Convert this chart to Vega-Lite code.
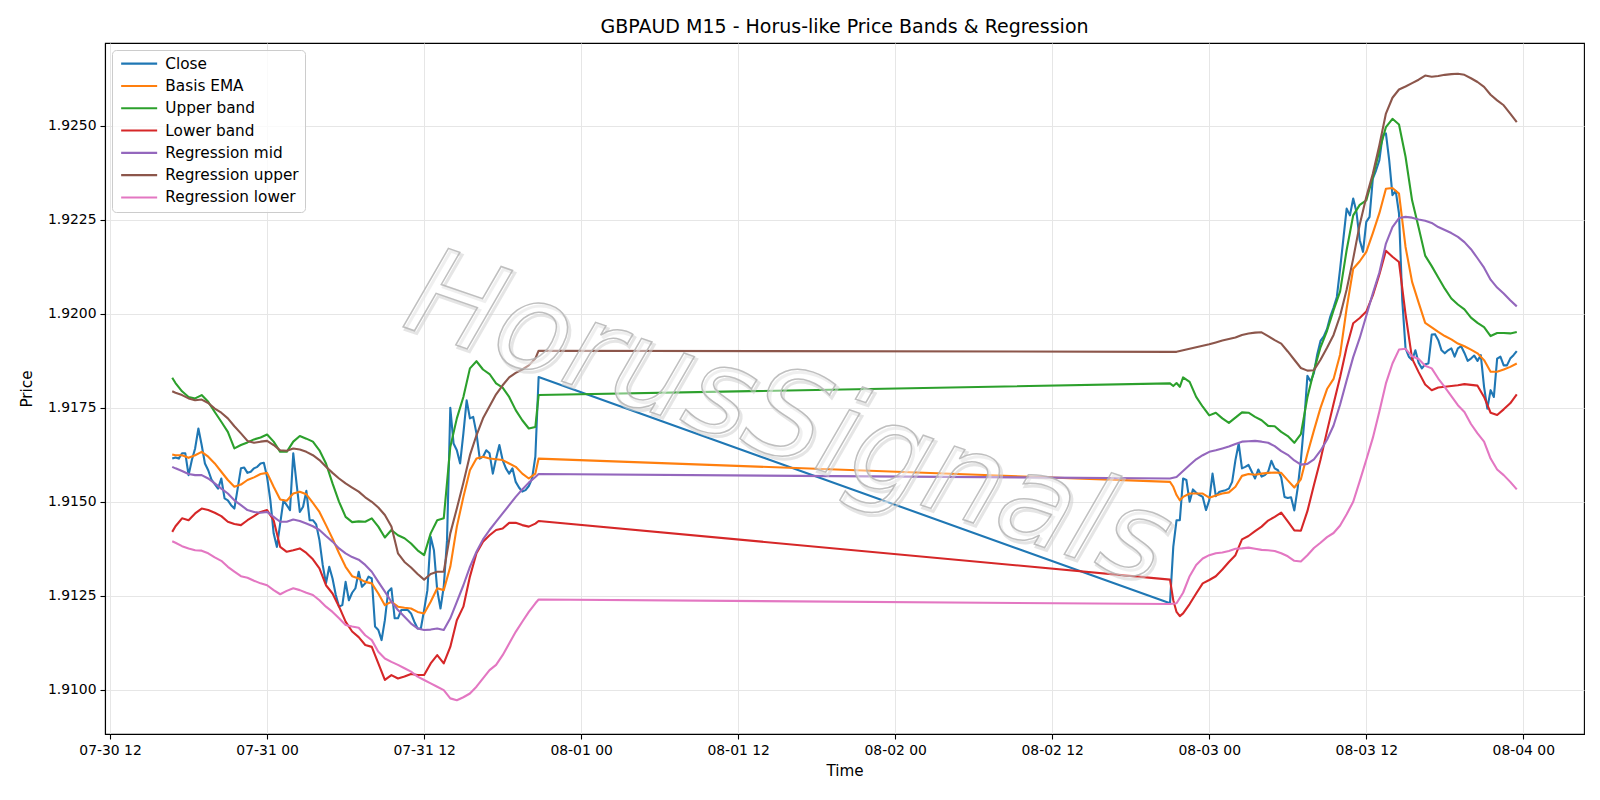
{
  "$schema": "https://vega.github.io/schema/vega-lite/v6.json",
  "width": 1479,
  "height": 691,
  "autosize": {"type": "none"},
  "padding": {"left": 105, "top": 43, "right": 16, "bottom": 66},
  "background": "white",
  "title": {"text": "GBPAUD M15 - Horus-like Price Bands & Regression", "fontSize": 19, "fontWeight": "normal", "color": "black", "offset": 6, "anchor": "middle"},
  "config": {
    "font": "DejaVu Sans",
    "view": {"stroke": "black", "strokeWidth": 1.1},
    "axis": {"labelFontSize": 13.9, "titleFontSize": 15.2, "titleFontWeight": "normal", "labelColor": "black", "titleColor": "black", "tickColor": "black", "domainColor": "black", "tickSize": 5, "tickWidth": 1.1, "domainWidth": 1.1, "labelPadding": 4, "gridColor": "#e6e6e6", "gridWidth": 1, "labelOverlap": false, "labelFlush": false}
  },
  "layer": [
    {
      "data": {"values": [
        {"t":"2020-07-30T16:45","c":1.91615,"e":1.91626,"u":1.9183,"l":1.9142,"m":1.91593,"h":1.91794,"w":1.91395},
        {"t":"2020-07-30T17:00","c":1.91618,"e":1.91624,"u":1.91816,"l":1.91435,"m":1.91589,"h":1.9179,"w":1.91391},
        {"t":"2020-07-30T17:15","c":1.91615},
        {"t":"2020-07-30T17:30","c":1.91629,"e":1.91624,"u":1.91794,"l":1.91456,"m":1.91582,"h":1.91784,"w":1.91382},
        {"t":"2020-07-30T17:45","c":1.91629},
        {"t":"2020-07-30T18:00","c":1.91571,"e":1.91617,"u":1.91779,"l":1.91451,"m":1.91574,"h":1.91775,"w":1.91376},
        {"t":"2020-07-30T18:15","c":1.91611},
        {"t":"2020-07-30T18:30","c":1.91642,"e":1.91624,"u":1.91775,"l":1.91469,"m":1.91571,"h":1.9177,"w":1.91371},
        {"t":"2020-07-30T18:45","c":1.91695},
        {"t":"2020-07-30T19:00","c":1.91651,"e":1.91633,"u":1.91784,"l":1.91482,"m":1.91571,"h":1.91772,"w":1.9137},
        {"t":"2020-07-30T19:15","c":1.91602},
        {"t":"2020-07-30T19:30","c":1.91584,"e":1.9162,"u":1.91766,"l":1.91478,"m":1.91562,"h":1.91763,"w":1.91363},
        {"t":"2020-07-30T19:45","c":1.91559},
        {"t":"2020-07-30T20:00","c":1.91547,"e":1.91602,"u":1.91739,"l":1.91471,"m":1.91549,"h":1.91748,"w":1.91352},
        {"t":"2020-07-30T20:15","c":1.91535},
        {"t":"2020-07-30T20:30","c":1.91562,"e":1.9158,"u":1.91713,"l":1.91462,"m":1.91535,"h":1.91737,"w":1.91343},
        {"t":"2020-07-30T20:45","c":1.91509},
        {"t":"2020-07-30T21:00","c":1.91504,"e":1.91558,"u":1.91686,"l":1.91447,"m":1.91522,"h":1.91722,"w":1.91327},
        {"t":"2020-07-30T21:15","c":1.91491},
        {"t":"2020-07-30T21:30","c":1.91482,"e":1.9154,"u":1.91642,"l":1.91441,"m":1.91504,"h":1.91701,"w":1.91314},
        {"t":"2020-07-30T21:45","c":1.91535},
        {"t":"2020-07-30T22:00","c":1.91589,"e":1.91546,"u":1.91651,"l":1.91438,"m":1.91491,"h":1.91682,"w":1.91302},
        {"t":"2020-07-30T22:15","c":1.91591},
        {"t":"2020-07-30T22:30","c":1.91577,"e":1.91558,"u":1.91658,"l":1.91451,"m":1.91478,"h":1.91662,"w":1.91298},
        {"t":"2020-07-30T22:45","c":1.9158},
        {"t":"2020-07-30T23:00","c":1.91589,"e":1.91565,"u":1.91666,"l":1.91462,"m":1.91473,"h":1.91657,"w":1.9129},
        {"t":"2020-07-30T23:15","c":1.91593},
        {"t":"2020-07-30T23:30","c":1.91602,"e":1.91574,"u":1.91671,"l":1.91473,"m":1.91471,"h":1.9166,"w":1.91283},
        {"t":"2020-07-30T23:45","c":1.91604},
        {"t":"2020-07-31T00:00","c":1.91566,"e":1.91577,"u":1.91679,"l":1.91478,"m":1.91473,"h":1.91662,"w":1.91278},
        {"t":"2020-07-31T00:15","c":1.91504},
        {"t":"2020-07-31T00:30","c":1.91416,"e":1.9154,"u":1.9166,"l":1.91451,"m":1.9146,"h":1.91651,"w":1.91265},
        {"t":"2020-07-31T00:45","c":1.9138},
        {"t":"2020-07-31T01:00","c":1.91442,"e":1.91506,"u":1.91633,"l":1.9138,"m":1.91447,"h":1.91637,"w":1.91254},
        {"t":"2020-07-31T01:15","c":1.91504},
        {"t":"2020-07-31T01:30","c":1.91491,"e":1.91503,"u":1.91633,"l":1.91367,"m":1.91447,"h":1.91636,"w":1.91263},
        {"t":"2020-07-31T01:45","c":1.91478},
        {"t":"2020-07-31T02:00","c":1.91629,"e":1.91522,"u":1.9166,"l":1.91371,"m":1.91453,"h":1.91642,"w":1.9127},
        {"t":"2020-07-31T02:15","c":1.91549},
        {"t":"2020-07-31T02:30","c":1.91473,"e":1.91527,"u":1.91675,"l":1.91376,"m":1.91449,"h":1.91639,"w":1.91265},
        {"t":"2020-07-31T02:45","c":1.91487},
        {"t":"2020-07-31T03:00","c":1.91529,"e":1.9152,"u":1.91668,"l":1.91364,"m":1.91442,"h":1.91633,"w":1.91258},
        {"t":"2020-07-31T03:15","c":1.91451},
        {"t":"2020-07-31T03:30","c":1.91451,"e":1.91497,"u":1.9166,"l":1.91347,"m":1.91435,"h":1.91624,"w":1.91252},
        {"t":"2020-07-31T03:45","c":1.9144},
        {"t":"2020-07-31T04:00","c":1.91398,"e":1.91473,"u":1.91637,"l":1.91323,"m":1.91425,"h":1.91611,"w":1.91238},
        {"t":"2020-07-31T04:15","c":1.91332},
        {"t":"2020-07-31T04:30","c":1.91283,"e":1.91438,"u":1.91602,"l":1.91278,"m":1.91409,"h":1.91593,"w":1.91221},
        {"t":"2020-07-31T04:45","c":1.91327},
        {"t":"2020-07-31T05:00","c":1.91296,"e":1.91402,"u":1.91549,"l":1.91256,"m":1.91394,"h":1.91577,"w":1.91207},
        {"t":"2020-07-31T05:15","c":1.91252},
        {"t":"2020-07-31T05:30","c":1.91221,"e":1.91363,"u":1.915,"l":1.91221,"m":1.91376,"h":1.91562,"w":1.9119},
        {"t":"2020-07-31T05:45","c":1.91225},
        {"t":"2020-07-31T06:00","c":1.91287,"e":1.91327,"u":1.9146,"l":1.91181,"m":1.91363,"h":1.91549,"w":1.91172},
        {"t":"2020-07-31T06:15","c":1.91238},
        {"t":"2020-07-31T06:30","c":1.91258,"e":1.91302,"u":1.91446,"l":1.91155,"m":1.91353,"h":1.91538,"w":1.91168},
        {"t":"2020-07-31T06:45","c":1.9127},
        {"t":"2020-07-31T07:00","c":1.91314,"e":1.91296,"u":1.91448,"l":1.9114,"m":1.91346,"h":1.91527,"w":1.91165},
        {"t":"2020-07-31T07:15","c":1.91274},
        {"t":"2020-07-31T07:30","c":1.91283,"e":1.91287,"u":1.91447,"l":1.91119,"m":1.91332,"h":1.91512,"w":1.91145},
        {"t":"2020-07-31T07:45","c":1.91301},
        {"t":"2020-07-31T08:00","c":1.91296,"e":1.91283,"u":1.91456,"l":1.91114,"m":1.91314,"h":1.915,"w":1.91132},
        {"t":"2020-07-31T08:15","c":1.91168},
        {"t":"2020-07-31T08:30","c":1.91159,"e":1.91256,"u":1.91434,"l":1.9107,"m":1.91287,"h":1.91485,"w":1.91101},
        {"t":"2020-07-31T08:45","c":1.91132},
        {"t":"2020-07-31T09:00","c":1.91185,"e":1.91225,"u":1.91405,"l":1.91026,"m":1.91261,"h":1.91465,"w":1.91083},
        {"t":"2020-07-31T09:15","c":1.91261},
        {"t":"2020-07-31T09:30","c":1.9127,"e":1.91234,"u":1.91425,"l":1.91039,"m":1.91234,"h":1.91434,"w":1.91074},
        {"t":"2020-07-31T09:45","c":1.9119},
        {"t":"2020-07-31T10:00","c":1.9119,"e":1.91221,"u":1.91411,"l":1.9103,"m":1.91212,"h":1.91363,"w":1.91066},
        {"t":"2020-07-31T10:15","c":1.91212},
        {"t":"2020-07-31T10:30","c":1.91212,"e":1.91218,"u":1.91403,"l":1.91035,"m":1.91194,"h":1.9134,"w":1.91057},
        {"t":"2020-07-31T10:45","c":1.91212},
        {"t":"2020-07-31T11:00","c":1.91203,"e":1.91216,"u":1.91389,"l":1.91042,"m":1.91176,"h":1.91325,"w":1.91048},
        {"t":"2020-07-31T11:15","c":1.91181},
        {"t":"2020-07-31T11:30","c":1.91163,"e":1.91207,"u":1.91371,"l":1.91039,"m":1.91163,"h":1.91308,"w":1.91035},
        {"t":"2020-07-31T11:45","c":1.91163},
        {"t":"2020-07-31T12:00","c":1.91212,"e":1.91203,"u":1.91358,"l":1.91039,"m":1.91159,"h":1.91293,"w":1.91026},
        {"t":"2020-07-31T12:15","c":1.91265},
        {"t":"2020-07-31T12:30","c":1.91407,"e":1.91234,"u":1.91416,"l":1.9107,"m":1.9116,"h":1.91308,"w":1.91017},
        {"t":"2020-07-31T12:45","c":1.91371},
        {"t":"2020-07-31T13:00","c":1.91265,"e":1.9127,"u":1.91451,"l":1.91092,"m":1.91163,"h":1.91314,"w":1.91008},
        {"t":"2020-07-31T13:15","c":1.91216},
        {"t":"2020-07-31T13:30","c":1.91274,"e":1.91265,"u":1.91456,"l":1.9107,"m":1.91159,"h":1.91314,"w":1.90999},
        {"t":"2020-07-31T13:45","c":1.91398},
        {"t":"2020-07-31T14:00","c":1.9175,"e":1.91327,"u":1.91646,"l":1.91114,"m":1.9119,"h":1.91416,"w":1.90977},
        {"t":"2020-07-31T14:15","c":1.91655},
        {"t":"2020-07-31T14:30","c":1.91637,"e":1.91434,"u":1.91722,"l":1.91185,"m":1.91234,"h":1.91482,"w":1.90972},
        {"t":"2020-07-31T14:45","c":1.91602},
        {"t":"2020-07-31T15:00","c":1.91682,"e":1.91513,"u":1.91779,"l":1.91221,"m":1.91278,"h":1.91551,"w":1.9098},
        {"t":"2020-07-31T15:15","c":1.9177},
        {"t":"2020-07-31T15:30","c":1.91722,"e":1.91584,"u":1.91855,"l":1.91301,"m":1.91327,"h":1.91624,"w":1.9099},
        {"t":"2020-07-31T15:45","c":1.91726},
        {"t":"2020-07-31T16:00","c":1.91682,"e":1.91615,"u":1.91874,"l":1.91363,"m":1.91367,"h":1.91677,"w":1.91008},
        {"t":"2020-07-31T16:15","c":1.91615},
        {"t":"2020-07-31T16:30","c":1.9162,"e":1.9162,"u":1.91852,"l":1.91394,"m":1.914,"h":1.91722,"w":1.9103},
        {"t":"2020-07-31T16:45","c":1.91637},
        {"t":"2020-07-31T17:00","c":1.91629,"e":1.91615,"u":1.9184,"l":1.91411,"m":1.91425,"h":1.91754,"w":1.91052},
        {"t":"2020-07-31T17:15","c":1.91575},
        {"t":"2020-07-31T17:30","c":1.91615,"e":1.91613,"u":1.91815,"l":1.91425,"m":1.91447,"h":1.91786,"w":1.91066},
        {"t":"2020-07-31T17:45","c":1.91651},
        {"t":"2020-07-31T18:00","c":1.91611,"e":1.91611,"u":1.91804,"l":1.91429,"m":1.91469,"h":1.9181,"w":1.91092},
        {"t":"2020-07-31T18:15","c":1.91589},
        {"t":"2020-07-31T18:30","c":1.91575,"e":1.91602,"u":1.91779,"l":1.91444,"m":1.91491,"h":1.91831,"w":1.91123},
        {"t":"2020-07-31T18:45","c":1.91589},
        {"t":"2020-07-31T19:00","c":1.91553,"e":1.91593,"u":1.91744,"l":1.91444,"m":1.91513,"h":1.91843,"w":1.91154},
        {"t":"2020-07-31T19:15","c":1.91538},
        {"t":"2020-07-31T19:30","c":1.91527,"e":1.91575,"u":1.91717,"l":1.91438,"m":1.91533,"h":1.91852,"w":1.91181},
        {"t":"2020-07-31T19:45","c":1.91531},
        {"t":"2020-07-31T20:00","c":1.91542,"e":1.91562,"u":1.91695,"l":1.91434,"m":1.91551,"h":1.91863,"w":1.91207},
        {"t":"2020-07-31T20:15","c":1.91562},
        {"t":"2020-07-31T20:30","c":1.9162,"e":1.91575,"u":1.91699,"l":1.91442,"m":1.91566,"h":1.91881,"w":1.9123},
        {"t":"2020-07-31T20:45","c":1.91832,"e":1.91615,"u":1.91784,"l":1.91449,"m":1.91574,"h":1.91902,"w":1.9124},
        {"t":"2020-08-02T21:00","c":1.9123,"e":1.91553,"u":1.91815,"l":1.91293,"m":1.91562,"h":1.91899,"w":1.91228},
        {"t":"2020-08-02T21:15","c":1.9138,"e":1.9154,"u":1.91808,"l":1.91238},
        {"t":"2020-08-02T21:30","c":1.91451,"e":1.91518,"u":1.91816,"l":1.91207,"m":1.91566,"h":1.91899,"w":1.9123},
        {"t":"2020-08-02T21:45","c":1.91451,"e":1.91504,"u":1.91806,"l":1.91196},
        {"t":"2020-08-02T22:00","c":1.91562,"e":1.91513,"u":1.91831,"l":1.91203,"m":1.91582,"h":1.91903,"w":1.91258},
        {"t":"2020-08-02T22:15","c":1.91558},
        {"t":"2020-08-02T22:30","c":1.915,"e":1.91522,"u":1.91819,"l":1.91228,"m":1.91598,"h":1.91907,"w":1.91302},
        {"t":"2020-08-02T22:45","c":1.91533},
        {"t":"2020-08-02T23:00","c":1.91524,"e":1.91522,"u":1.91779,"l":1.91256,"m":1.91613,"h":1.91911,"w":1.91332},
        {"t":"2020-08-02T23:15","c":1.91518},
        {"t":"2020-08-02T23:30","c":1.91513,"e":1.91522,"u":1.91753,"l":1.91283,"m":1.91624,"h":1.91915,"w":1.91349},
        {"t":"2020-08-02T23:45","c":1.91478},
        {"t":"2020-08-03T00:00","c":1.91504,"e":1.91511,"u":1.9173,"l":1.91292,"m":1.91633,"h":1.91919,"w":1.91358},
        {"t":"2020-08-03T00:15","c":1.91575},
        {"t":"2020-08-03T00:30","c":1.91515,"e":1.91517,"u":1.91737,"l":1.91302,"m":1.91637,"h":1.91924,"w":1.91363},
        {"t":"2020-08-03T00:45","c":1.91526},
        {"t":"2020-08-03T01:00","c":1.91529,"e":1.91522,"u":1.91722,"l":1.9132,"m":1.91642,"h":1.91929,"w":1.91365},
        {"t":"2020-08-03T01:15","c":1.91531},
        {"t":"2020-08-03T01:30","c":1.91535,"e":1.91525,"u":1.9171,"l":1.9134,"m":1.91647,"h":1.91933,"w":1.91369},
        {"t":"2020-08-03T01:45","c":1.91553},
        {"t":"2020-08-03T02:00","c":1.91611,"e":1.9154,"u":1.91724,"l":1.91358,"m":1.91654,"h":1.91937,"w":1.91375},
        {"t":"2020-08-03T02:15","c":1.91655},
        {"t":"2020-08-03T02:30","c":1.91589,"e":1.91569,"u":1.91738,"l":1.914,"m":1.9166,"h":1.91944,"w":1.91376},
        {"t":"2020-08-03T02:45","c":1.91593},
        {"t":"2020-08-03T03:00","c":1.91598,"e":1.91574,"u":1.91737,"l":1.91409,"m":1.91661,"h":1.91948,"w":1.91378},
        {"t":"2020-08-03T03:15","c":1.9158},
        {"t":"2020-08-03T03:30","c":1.91562,"e":1.91572,"u":1.91726,"l":1.91422,"m":1.91662,"h":1.9195,"w":1.91375},
        {"t":"2020-08-03T03:45","c":1.91586},
        {"t":"2020-08-03T04:00","c":1.91567,"e":1.91575,"u":1.91717,"l":1.91434,"m":1.9166,"h":1.91951,"w":1.91372},
        {"t":"2020-08-03T04:15","c":1.91571},
        {"t":"2020-08-03T04:30","c":1.9158,"e":1.91577,"u":1.91702,"l":1.9145,"m":1.91657,"h":1.91941,"w":1.91371},
        {"t":"2020-08-03T04:45","c":1.91609},
        {"t":"2020-08-03T05:00","c":1.91589,"e":1.91578,"u":1.91701,"l":1.9146,"m":1.91648,"h":1.9193,"w":1.91369},
        {"t":"2020-08-03T05:15","c":1.91584},
        {"t":"2020-08-03T05:30","c":1.91565,"e":1.91577,"u":1.91686,"l":1.91471,"m":1.91635,"h":1.91921,"w":1.91363},
        {"t":"2020-08-03T05:45","c":1.91513},
        {"t":"2020-08-03T06:00","c":1.9151,"e":1.91557,"u":1.91675,"l":1.91448,"m":1.91625,"h":1.919,"w":1.91355},
        {"t":"2020-08-03T06:15","c":1.91512},
        {"t":"2020-08-03T06:30","c":1.91477,"e":1.91538,"u":1.91657,"l":1.91424,"m":1.9161,"h":1.91878,"w":1.91343},
        {"t":"2020-08-03T06:45","c":1.91535},
        {"t":"2020-08-03T07:00","c":1.9161,"e":1.9156,"u":1.9168,"l":1.91423,"m":1.91599,"h":1.91856,"w":1.91341},
        {"t":"2020-08-03T07:15","c":1.9171},
        {"t":"2020-08-03T07:30","c":1.91835,"e":1.91628,"u":1.91778,"l":1.91475,"m":1.91601,"h":1.91849,"w":1.91358},
        {"t":"2020-08-03T07:45","c":1.9182},
        {"t":"2020-08-03T08:00","c":1.91843,"e":1.9169,"u":1.91849,"l":1.91545,"m":1.91613,"h":1.9185,"w":1.91377},
        {"t":"2020-08-03T08:15","c":1.91892},
        {"t":"2020-08-03T08:30","c":1.91928,"e":1.9175,"u":1.91911,"l":1.91612,"m":1.91636,"h":1.91878,"w":1.91391},
        {"t":"2020-08-03T08:45","c":1.9194},
        {"t":"2020-08-03T09:00","c":1.9196,"e":1.918,"u":1.91955,"l":1.91688,"m":1.91665,"h":1.9191,"w":1.91406},
        {"t":"2020-08-03T09:15","c":1.91993},
        {"t":"2020-08-03T09:30","c":1.92017,"e":1.91827,"u":1.9201,"l":1.91761,"m":1.91703,"h":1.91944,"w":1.91417},
        {"t":"2020-08-03T09:45","c":1.92045},
        {"t":"2020-08-03T10:00","c":1.9212,"e":1.91892,"u":1.9206,"l":1.91832,"m":1.91759,"h":1.91995,"w":1.91437},
        {"t":"2020-08-03T10:15","c":1.922},
        {"t":"2020-08-03T10:30","c":1.9228,"e":1.92015,"u":1.9217,"l":1.91911,"m":1.91823,"h":1.92065,"w":1.91467},
        {"t":"2020-08-03T10:45","c":1.92262},
        {"t":"2020-08-03T11:00","c":1.92307,"e":1.9212,"u":1.92262,"l":1.91975,"m":1.91885,"h":1.92147,"w":1.915},
        {"t":"2020-08-03T11:15","c":1.92271},
        {"t":"2020-08-03T11:30","c":1.92196,"e":1.9214,"u":1.9229,"l":1.91989,"m":1.91936,"h":1.92238,"w":1.91555},
        {"t":"2020-08-03T11:45","c":1.92165},
        {"t":"2020-08-03T12:00","c":1.92245,"e":1.92165,"u":1.92302,"l":1.92006,"m":1.91995,"h":1.92311,"w":1.91612},
        {"t":"2020-08-03T12:15","c":1.92258},
        {"t":"2020-08-03T12:30","c":1.9236,"e":1.92215,"u":1.92364,"l":1.92049,"m":1.92055,"h":1.92373,"w":1.9167},
        {"t":"2020-08-03T12:45","c":1.92382},
        {"t":"2020-08-03T13:00","c":1.92409,"e":1.92268,"u":1.92434,"l":1.92105,"m":1.9211,"h":1.92449,"w":1.9174},
        {"t":"2020-08-03T13:15","c":1.92475},
        {"t":"2020-08-03T13:30","c":1.9248,"e":1.92333,"u":1.92497,"l":1.92168,"m":1.92187,"h":1.92533,"w":1.91815},
        {"t":"2020-08-03T13:45","c":1.92409},
        {"t":"2020-08-03T14:00","c":1.92316,"e":1.92335,"u":1.92519,"l":1.92152,"m":1.92231,"h":1.92575,"w":1.91868},
        {"t":"2020-08-03T14:15","c":1.92327},
        {"t":"2020-08-03T14:30","c":1.92267,"e":1.9232,"u":1.92504,"l":1.92138,"m":1.92255,"h":1.92597,"w":1.91905},
        {"t":"2020-08-03T14:45","c":1.92036},
        {"t":"2020-08-03T15:00","c":1.91908,"e":1.92178,"u":1.92418,"l":1.91999,"m":1.92258,"h":1.92605,"w":1.91907},
        {"t":"2020-08-03T15:15","c":1.91886},
        {"t":"2020-08-03T15:30","c":1.91877,"e":1.92085,"u":1.92302,"l":1.91881,"m":1.92256,"h":1.92614,"w":1.91887},
        {"t":"2020-08-03T15:45","c":1.91903},
        {"t":"2020-08-03T16:00","c":1.9187,"e":1.9203,"u":1.9223,"l":1.91845,"m":1.92251,"h":1.92623,"w":1.9188},
        {"t":"2020-08-03T16:15","c":1.91855},
        {"t":"2020-08-03T16:30","c":1.91866,"e":1.91976,"u":1.92155,"l":1.91812,"m":1.92248,"h":1.92634,"w":1.91862},
        {"t":"2020-08-03T16:45","c":1.91868},
        {"t":"2020-08-03T17:00","c":1.91945,"e":1.91964,"u":1.92127,"l":1.91797,"m":1.92242,"h":1.92631,"w":1.91855},
        {"t":"2020-08-03T17:15","c":1.91946},
        {"t":"2020-08-03T17:30","c":1.9193,"e":1.91952,"u":1.92097,"l":1.91804,"m":1.92231,"h":1.92633,"w":1.91828},
        {"t":"2020-08-03T17:45","c":1.91903},
        {"t":"2020-08-03T18:00","c":1.91895,"e":1.91941,"u":1.92067,"l":1.91806,"m":1.92223,"h":1.92636,"w":1.91805},
        {"t":"2020-08-03T18:15","c":1.91903},
        {"t":"2020-08-03T18:30","c":1.91908,"e":1.91932,"u":1.92041,"l":1.91808,"m":1.92215,"h":1.92638,"w":1.91781},
        {"t":"2020-08-03T18:45","c":1.91886},
        {"t":"2020-08-03T19:00","c":1.91908,"e":1.91921,"u":1.92025,"l":1.9181,"m":1.92205,"h":1.92639,"w":1.91757},
        {"t":"2020-08-03T19:15","c":1.91914},
        {"t":"2020-08-03T19:30","c":1.91896,"e":1.91914,"u":1.92012,"l":1.91813,"m":1.92191,"h":1.92636,"w":1.91739},
        {"t":"2020-08-03T19:45","c":1.91875},
        {"t":"2020-08-03T20:00","c":1.91881,"e":1.91905,"u":1.9199,"l":1.91811,"m":1.92172,"h":1.92627,"w":1.91707},
        {"t":"2020-08-03T20:15","c":1.91889},
        {"t":"2020-08-03T20:30","c":1.91875,"e":1.91895,"u":1.91976,"l":1.91809,"m":1.92148,"h":1.92617,"w":1.91682},
        {"t":"2020-08-03T20:45","c":1.9189},
        {"t":"2020-08-03T21:00","c":1.91806,"e":1.91877,"u":1.91965,"l":1.91779,"m":1.92123,"h":1.92604,"w":1.9166},
        {"t":"2020-08-03T21:15","c":1.91748},
        {"t":"2020-08-03T21:30","c":1.91797,"e":1.91846,"u":1.91941,"l":1.91737,"m":1.92091,"h":1.92583,"w":1.91615},
        {"t":"2020-08-03T21:45","c":1.91779},
        {"t":"2020-08-03T22:00","c":1.91881,"e":1.91846,"u":1.91949,"l":1.91731,"m":1.9207,"h":1.92568,"w":1.91586},
        {"t":"2020-08-03T22:15","c":1.91886},
        {"t":"2020-08-03T22:30","c":1.91863,"e":1.91852,"u":1.91949,"l":1.91746,"m":1.92054,"h":1.92555,"w":1.91571},
        {"t":"2020-08-03T22:45","c":1.91863},
        {"t":"2020-08-03T23:00","c":1.91881,"e":1.91859,"u":1.91948,"l":1.91762,"m":1.92036,"h":1.92533,"w":1.91553},
        {"t":"2020-08-03T23:15","c":1.9189},
        {"t":"2020-08-03T23:30","c":1.91901,"e":1.91868,"u":1.91952,"l":1.91786,"m":1.9202,"h":1.9251,"w":1.91533}
      ]},
      "transform": [
        {"fold": ["c", "e", "u", "l", "m", "h", "w"], "as": ["s", "v"]},
        {"filter": "isValid(datum.v)"}
      ],
      "mark": {"type": "line", "strokeWidth": 2.1, "strokeJoin": "round"},
      "encoding": {
        "x": {"field": "t", "type": "temporal",
          "scale": {"domain": ["2020-07-30T11:36:45", "2020-08-04T04:38:15"]},
          "axis": {"title": "Time", "format": "%m-%d %H", "titlePadding": 7,
            "values": ["2020-07-30T12:00", "2020-07-31T00:00", "2020-07-31T12:00", "2020-08-01T00:00", "2020-08-01T12:00", "2020-08-02T00:00", "2020-08-02T12:00", "2020-08-03T00:00", "2020-08-03T12:00", "2020-08-04T00:00"]}},
        "y": {"field": "v", "type": "quantitative",
          "scale": {"domain": [1.908822, 1.927207], "nice": false, "zero": false},
          "axis": {"title": "Price", "values": [1.91, 1.9125, 1.915, 1.9175, 1.92, 1.9225, 1.925], "format": ".4f", "titlePadding": 13}},
        "color": {"field": "s", "type": "nominal",
          "scale": {"domain": ["c", "e", "u", "l", "m", "h", "w"], "range": ["#1f77b4", "#ff7f0e", "#2ca02c", "#d62728", "#9467bd", "#8c564b", "#e377c2"]},
          "legend": {"orient": "top-left", "offset": 7, "title": null, "padding": 6, "rowPadding": 6.3, "fillColor": "rgba(255,255,255,0.8)", "strokeColor": "#cccccc", "cornerRadius": 4, "symbolType": "M-1,0H7", "symbolSize": 81, "symbolStrokeWidth": 2.1, "labelFontSize": 15.3, "labelOffset": 32, "labelColor": "black", "labelLimit": 300,
            "labelExpr": "datum.label=='c'?'Close':datum.label=='e'?'Basis EMA':datum.label=='u'?'Upper band':datum.label=='l'?'Lower band':datum.label=='m'?'Regression mid':datum.label=='h'?'Regression upper':'Regression lower'"}}
      }
    },
    {
      "data": {"values": [{"label": "HorusSignals", "t": "2020-08-01T15:50", "p": 1.91717}]},
      "layer": [
        {"mark": {"type": "text", "font": "DejaVu Sans", "fontStyle": "italic", "fontSize": 122, "angle": 19, "align": "center", "baseline": "middle", "dx": 3, "dy": 2, "fillOpacity": 0, "stroke": "#cfcfcf", "strokeWidth": 3, "strokeOpacity": 0.55}},
        {"mark": {"type": "text", "font": "DejaVu Sans", "fontStyle": "italic", "fontSize": 122, "angle": 19, "align": "center", "baseline": "middle", "fill": "#ffffff", "fillOpacity": 0.4, "stroke": "#b4b4b4", "strokeWidth": 1.5, "strokeOpacity": 0.85}}
      ],
      "encoding": {
        "x": {"field": "t", "type": "temporal", "scale": {"domain": ["2020-07-30T11:36:45", "2020-08-04T04:38:15"]}},
        "y": {"field": "p", "type": "quantitative", "scale": {"domain": [1.908822, 1.927207], "nice": false, "zero": false}},
        "text": {"field": "label"}
      }
    }
  ]
}
